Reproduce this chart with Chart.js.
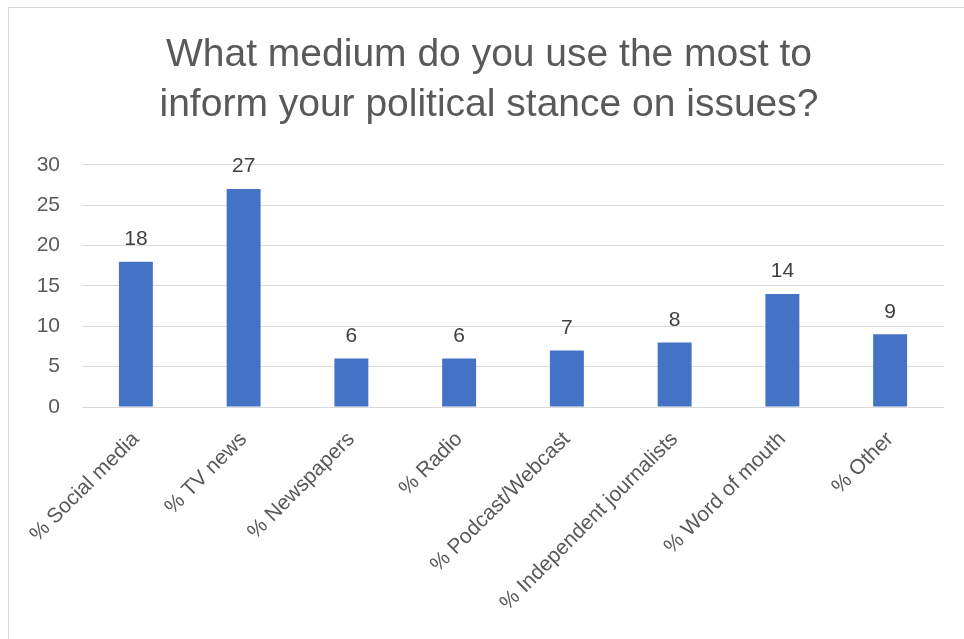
<!DOCTYPE html>
<html>
<head>
<meta charset="utf-8">
<script src="https://cdn.jsdelivr.net/npm/chart.js@4"></script>
<style>
  html, body { margin: 0; padding: 0; background: #ffffff; overflow: hidden; }
  #frame { position: absolute; left: 8px; top: 7px; width: 1000px; height: 700px; border: 1px solid #d9d9d9; }
  #wrap { position: absolute; left: 0; top: 0; width: 964px; height: 639px; }
</style>
</head>
<body>
<div id="frame"></div>
<div id="wrap"><canvas id="chart"></canvas></div>
<script>
const categories = ['% Social media', '% TV news', '% Newspapers', '% Radio', '% Podcast/Webcast', '% Independent journalists', '% Word of mouth', '% Other'];
const values = [18, 27, 6, 6, 7, 8, 14, 9];
const yTicks = [0, 5, 10, 15, 20, 25, 30];
const titleLines = ['What medium do you use the most to', 'inform your political stance on issues?'];

const fontFamily = '"Liberation Sans", Arial, sans-serif';

// draw the number above each bar
const valueLabels = {
    id: 'valueLabels',
    afterDatasetsDraw(chart) {
        const ctx = chart.ctx;
        const meta = chart.getDatasetMeta(0);
        ctx.save();
        ctx.font = '21px ' + fontFamily;
        ctx.fillStyle = '#404040';
        ctx.textAlign = 'center';
        ctx.textBaseline = 'bottom';
        meta.data.forEach((bar, i) => {
            ctx.fillText(values[i], bar.x, bar.y - 12);
        });
        ctx.restore();
    }
};

function barchart(id){
    const data = {
        labels: categories,
        datasets: [{
            data: values,
            backgroundColor: '#4472C4',
            borderWidth: 0,
            barPercentage: 0.63,
            categoryPercentage: 0.5
        }]
    };
    const config = {
        type: 'bar',
        data: data,
        plugins: [valueLabels],
        options: {
            responsive: false,
            animation: false,
            layout: { padding: { left: 34, right: 20, top: 0, bottom: 0 } },
            plugins: {
                legend: { display: false },
                tooltip: { enabled: false },
                title: {
                    display: true,
                    text: titleLines,
                    color: '#595959',
                    font: { family: fontFamily, size: 39, weight: 'normal', lineHeight: 1.28 },
                    padding: { top: 30, bottom: 35 }
                }
            },
            scales: {
                x: {
                    grid: { display: false },
                    border: { display: false },
                    ticks: {
                        color: '#595959',
                        font: { family: fontFamily, size: 21 },
                        maxRotation: 45,
                        minRotation: 45,
                        padding: 12,
                        autoSkip: false
                    },
                    afterFit(scale) { scale.height = 232; }
                },
                y: {
                    min: 0,
                    max: 30,
                    afterBuildTicks(scale) { scale.ticks = yTicks.map(v => ({ value: v })); },
                    grid: { color: '#d9d9d9', lineWidth: 1, drawTicks: false },
                    border: { display: false },
                    ticks: {
                        color: '#595959',
                        font: { family: fontFamily, size: 21 },
                        padding: 22
                    },
                    afterFit(scale) { scale.width = 48; }
                }
            }
        }
    };
    const canvas = document.getElementById(id);
    canvas.width = 964;
    canvas.height = 639;
    new Chart(canvas.getContext('2d'), config);
}

barchart('chart');
</script>
</body>
</html>
